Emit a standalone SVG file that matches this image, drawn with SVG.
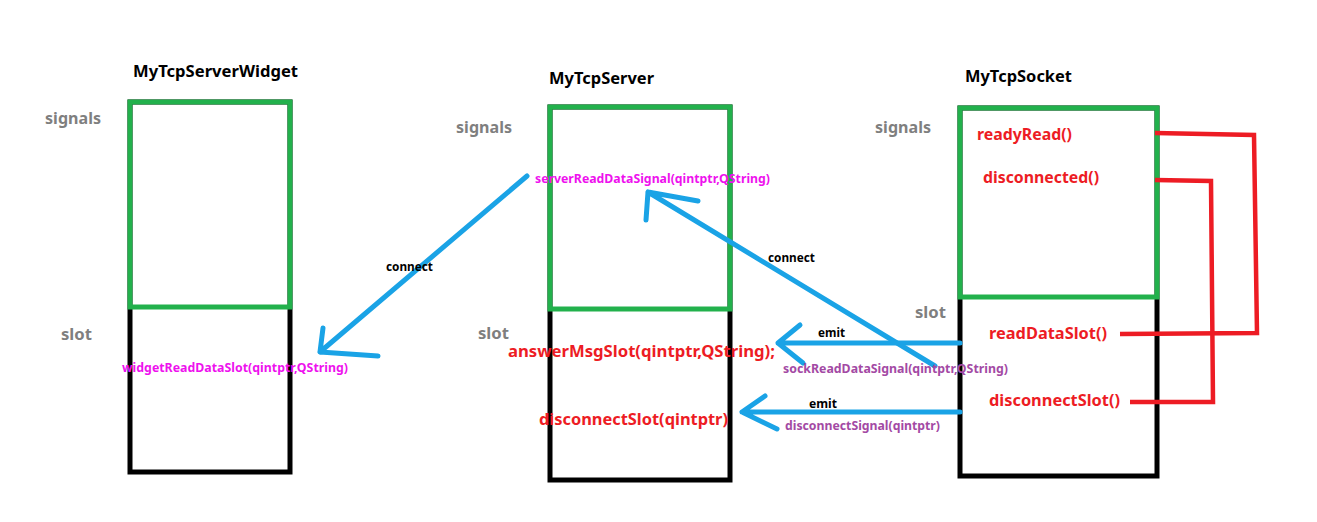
<svg xmlns="http://www.w3.org/2000/svg" width="1317" height="522" viewBox="0 0 1317 522">
<style>
text{font-family:"Noto Sans","Liberation Sans",sans-serif;font-weight:bold}
.title{font-size:16px;fill:#000}
.sec{font-size:16px;fill:#7f7f7f}
.red{font-size:16px;fill:#ed1c24}
.mag{font-size:11.5px;fill:#ee11ee}
.pur{font-size:11.5px;fill:#a349a4}
.lbl{font-size:11.5px;fill:#000}
.box{fill:#fff;stroke:#000;stroke-width:5}
.sig{fill:none;stroke:#22b14c;stroke-width:5}
.blue{fill:none;stroke:#1aa3e6;stroke-width:5;stroke-linecap:round;stroke-linejoin:round}
.rl{fill:none;stroke:#ed1c24;stroke-width:4.5;stroke-linejoin:miter}
</style>
<rect width="1317" height="522" fill="#fff"/>
<g id="MyTcpServerWidget">
<rect class="box" x="130" y="102" width="160" height="370"/>
<rect class="sig" x="130" y="102" width="160" height="205"/>
<text class="title" x="133" y="77" textLength="165" lengthAdjust="spacingAndGlyphs">MyTcpServerWidget</text>
<text class="sec" x="45" y="124" textLength="56" lengthAdjust="spacingAndGlyphs">signals</text>
<text class="sec" x="61" y="340" textLength="31" lengthAdjust="spacingAndGlyphs">slot</text>
<text class="mag" x="122" y="372" textLength="226" lengthAdjust="spacingAndGlyphs">widgetReadDataSlot(qintptr,QString)</text>
</g>
<g id="MyTcpServer">
<rect class="box" x="550" y="107" width="180" height="373"/>
<rect class="sig" x="550" y="107" width="180" height="202"/>
<text class="title" x="549" y="84" textLength="105" lengthAdjust="spacingAndGlyphs">MyTcpServer</text>
<text class="sec" x="456" y="133" textLength="56" lengthAdjust="spacingAndGlyphs">signals</text>
<text class="sec" x="478" y="339" textLength="31" lengthAdjust="spacingAndGlyphs">slot</text>
<text class="mag" x="535" y="183" textLength="235" lengthAdjust="spacingAndGlyphs">serverReadDataSignal(qintptr,QString)</text>
<text class="red" x="508" y="357" textLength="267" lengthAdjust="spacingAndGlyphs">answerMsgSlot(qintptr,QString);</text>
<text class="red" x="539" y="425" textLength="189" lengthAdjust="spacingAndGlyphs">disconnectSlot(qintptr)</text>
</g>
<g id="MyTcpSocket">
<rect class="box" x="960" y="108" width="197" height="368"/>
<rect class="sig" x="960" y="108" width="197" height="189"/>
<text class="title" x="965" y="82" textLength="107" lengthAdjust="spacingAndGlyphs">MyTcpSocket</text>
<text class="sec" x="875" y="133" textLength="56" lengthAdjust="spacingAndGlyphs">signals</text>
<text class="sec" x="915" y="318" textLength="31" lengthAdjust="spacingAndGlyphs">slot</text>
<text class="red" x="977" y="140" textLength="95" lengthAdjust="spacingAndGlyphs">readyRead()</text>
<text class="red" x="983" y="183" textLength="116" lengthAdjust="spacingAndGlyphs">disconnected()</text>
<text class="red" x="989" y="339" textLength="118" lengthAdjust="spacingAndGlyphs">readDataSlot()</text>
<text class="red" x="989" y="406" textLength="131" lengthAdjust="spacingAndGlyphs">disconnectSlot()</text>
</g>
<g id="connectors">
<path class="blue" d="M527,176 L320,352 M323,328 L320,352 L378,356"/>
<text class="lbl" x="386" y="271" textLength="47" lengthAdjust="spacingAndGlyphs">connect</text>
<path class="blue" d="M935,366 L648,192 M698,201 L648,192 L646,220"/>
<text class="lbl" x="768" y="262" textLength="47" lengthAdjust="spacingAndGlyphs">connect</text>
<path class="blue" d="M960,343 L778,343 M800,325 L778,343 L803,363"/>
<text class="lbl" x="818" y="337" textLength="27" lengthAdjust="spacingAndGlyphs">emit</text>
<text class="pur" x="783" y="373" textLength="225" lengthAdjust="spacingAndGlyphs">sockReadDataSignal(qintptr,QString)</text>
<path class="blue" d="M960,412 L742,412 M765,396 L742,412 L777,429"/>
<text class="lbl" x="809" y="408" textLength="28" lengthAdjust="spacingAndGlyphs">emit</text>
<text class="pur" x="785" y="430" textLength="155" lengthAdjust="spacingAndGlyphs">disconnectSignal(qintptr)</text>
<path class="rl" d="M1155,133 L1254,135 L1257,333 L1120,334"/>
<path class="rl" d="M1155,180 L1211,181 L1213,402 L1130,402"/>
</g>
</svg>
